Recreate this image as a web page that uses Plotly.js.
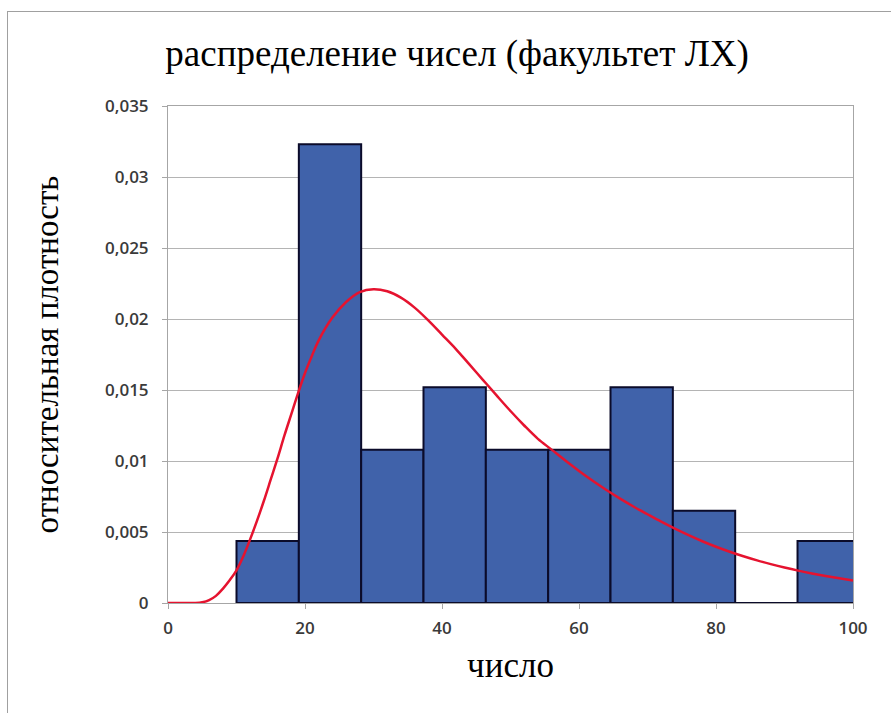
<!DOCTYPE html>
<html>
<head>
<meta charset="utf-8">
<script src="https://cdn.plot.ly/plotly-3.0.1.min.js"></script>
<style>
  html, body { margin: 0; padding: 0; background: #ffffff; overflow: hidden; }
  #chart { width: 891px; height: 713px; position: absolute; left: 0; top: 0; }
  #frame { position: absolute; left: 7px; top: 11px; width: 1000px; height: 1000px;
           border-left: 1px solid #a0a0a0; border-top: 1px solid #a0a0a0; pointer-events: none; z-index: 10; }
</style>
</head>
<body>
<div id="chart"></div>
<div id="frame"></div>
<script>
// Histogram bins (edges) and relative density per bin
const binEdges = [10, 19.1, 28.2, 37.3, 46.4, 55.5, 64.6, 73.7, 82.8, 91.9, 101];
const density  = [0.00437, 0.0323, 0.0108, 0.0152, 0.0108, 0.0108, 0.0152, 0.0065, 0, 0.00437];

// Fitted density curve
const curveX = [0, 2, 4, 5, 6, 7, 8, 9, 10, 11, 12, 13, 14, 15, 16, 17, 18, 19, 20, 21, 22, 24, 26, 28, 30, 32, 34, 36, 38, 40,
                42, 44, 46, 48, 50, 52, 54, 56, 58, 60, 62, 64, 66, 68, 70, 72, 74, 76, 78, 80, 82, 84, 86, 88, 90, 92, 94, 96, 98, 100];
const curveY = [0, 0, 0, 0.00005, 0.0002, 0.0005, 0.001, 0.0016, 0.0023, 0.0033, 0.0045, 0.0058, 0.0072, 0.0087, 0.0102, 0.0118,
                0.0133, 0.0148, 0.0162, 0.0174, 0.0185, 0.0201, 0.0212, 0.0219, 0.0221, 0.02195, 0.0215, 0.0208, 0.0199, 0.0189,
                0.0179, 0.0168, 0.0157, 0.0146, 0.01352, 0.0125, 0.01156, 0.0108, 0.01003, 0.0093, 0.00861, 0.00796, 0.00735,
                0.00678, 0.00625, 0.00573, 0.00524, 0.00478, 0.00435, 0.00396, 0.00361, 0.00329, 0.003, 0.00274, 0.0025, 0.00228,
                0.00208, 0.0019, 0.00174, 0.00159];

const titleText = 'распределение чисел (факультет ЛХ)';
const xTitle = 'число';
const yTitle = 'относительная плотность';
const xTicks = [0, 20, 40, 60, 80, 100];

const centers = binEdges.slice(0, -1).map((e, i) => (e + binEdges[i + 1]) / 2);
const widths = binEdges.slice(0, -1).map((e, i) => binEdges[i + 1] - e);

const bars = {
  type: 'bar', x: centers, y: density, width: widths,
  marker: { color: '#4062aa', line: { color: '#0b0b2a', width: 2 } },
  hoverinfo: 'skip', cliponaxis: true
};
const curve = {
  type: 'scatter', mode: 'lines', x: curveX, y: curveY,
  line: { color: '#e5132f', width: 2.5, shape: 'spline', smoothing: 1 },
  hoverinfo: 'skip'
};

const tickFont = { family: 'Open Sans, DejaVu Sans, sans-serif', size: 17, color: '#3a3a3a', weight: 600 };
const serif = 'Liberation Serif, Times New Roman, serif';

const layout = {
  width: 891, height: 713,
  margin: { l: 168, r: 38, t: 106, b: 110 },
  paper_bgcolor: '#ffffff', plot_bgcolor: '#ffffff',
  separators: ', ',
  showlegend: false,
  bargap: 0,
  title: { text: titleText, x: 0.513, xanchor: 'center', y: 0.925, yanchor: 'middle',
           font: { family: serif, size: 37, color: '#000000' } },
  xaxis: {
    range: [0, 100], tickvals: xTicks, ticktext: xTicks.map(String),
    showgrid: false, zeroline: false,
    showline: true, linecolor: '#a6a6a6', linewidth: 1, mirror: true,
    ticks: 'outside', ticklen: 5, tickcolor: '#a6a6a6',
    ticklabelstandoff: 5,
    tickfont: tickFont,
    title: { text: xTitle, standoff: 14, font: { family: serif, size: 35, color: '#000000' } },
    automargin: false
  },
  yaxis: {
    range: [0, 0.035], dtick: 0.005, tick0: 0,
    showgrid: true, gridcolor: '#b4b4b4', gridwidth: 1, zeroline: false,
    showline: true, linecolor: '#a6a6a6', linewidth: 1, mirror: true,
    ticks: 'outside', ticklen: 5, tickcolor: '#a6a6a6',
    ticklabelstandoff: 10,
    tickfont: tickFont,
    title: { text: yTitle, standoff: 36, font: { family: serif, size: 33, color: '#000000' } },
    automargin: false
  }
};

Plotly.newPlot('chart', [bars, curve], layout, { displayModeBar: false, staticPlot: true });
</script>
</body>
</html>
